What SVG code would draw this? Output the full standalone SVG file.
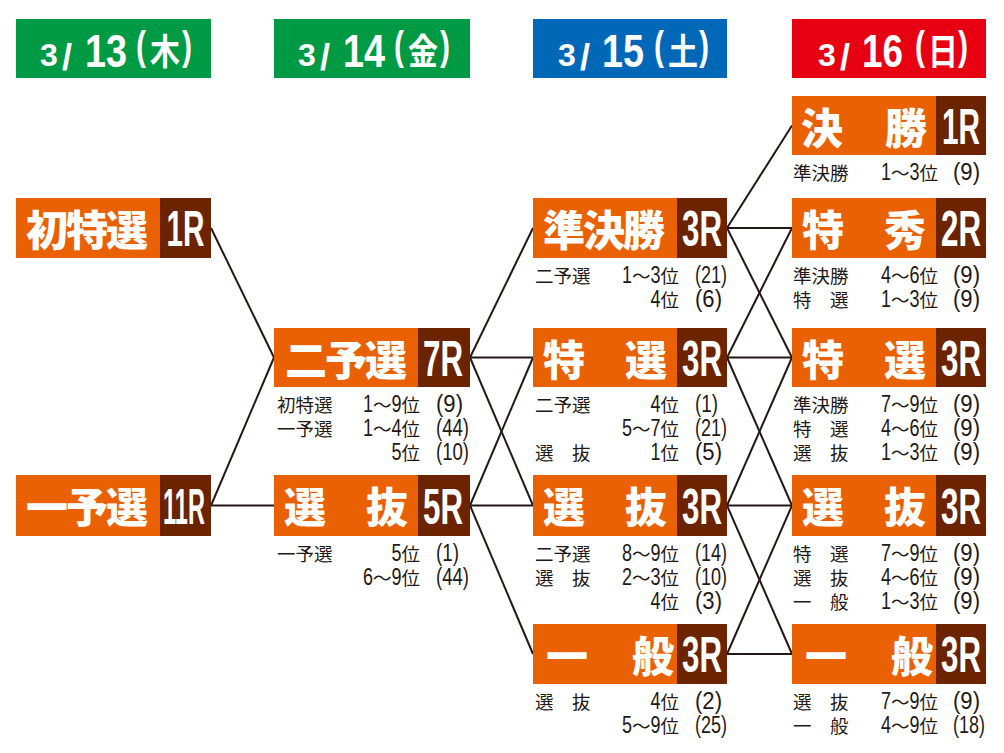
<svg xmlns="http://www.w3.org/2000/svg" width="1004" height="753" viewBox="0 0 1004 753">
<style>
.hd{fill:#fff;font-family:"Liberation Sans",Arial,sans-serif;font-weight:700}
.hk{font-family:"Noto Sans CJK JP",sans-serif;font-weight:700}
.o{fill:#ea6103}
.d{fill:#6b2300}
.lb{fill:#fff;font-family:"Noto Sans CJK JP",sans-serif;font-weight:900;font-size:42px}
.l3{letter-spacing:-2px}
.r{fill:#fff;font-family:"Liberation Sans",Arial,sans-serif;font-weight:700;font-size:50px;text-anchor:middle}
.t{fill:#231815;font-family:"Noto Sans CJK JP",sans-serif;font-size:18.5px}
.v{text-anchor:end}
.n{font-family:"Liberation Sans",Arial,sans-serif;font-size:23px}
.c line{stroke:#231815;stroke-width:2}
</style>

<g id="headers">
  <g id="h1" transform="translate(16,19)">
    <rect width="195" height="59" fill="#009944"/>
    <text class="hd" y="47"><tspan x="24" font-size="32">3</tspan><tspan x="46" y="51" font-size="36">/</tspan><tspan x="69" y="48" font-size="46" textLength="42" lengthAdjust="spacingAndGlyphs">13</tspan><tspan x="120" y="41" font-size="40" textLength="10" lengthAdjust="spacingAndGlyphs">(</tspan><tspan class="hk" x="134" y="46" font-size="36" textLength="30" lengthAdjust="spacingAndGlyphs">木</tspan><tspan x="166" y="41" font-size="40" textLength="10" lengthAdjust="spacingAndGlyphs">)</tspan></text>
  </g>
  <g id="h2" transform="translate(274,19)">
    <rect width="196" height="59" fill="#009944"/>
    <text class="hd" y="47"><tspan x="24" font-size="32">3</tspan><tspan x="46" y="51" font-size="36">/</tspan><tspan x="69" y="48" font-size="46" textLength="42" lengthAdjust="spacingAndGlyphs">14</tspan><tspan x="120" y="41" font-size="40" textLength="10" lengthAdjust="spacingAndGlyphs">(</tspan><tspan class="hk" x="134" y="46" font-size="36" textLength="30" lengthAdjust="spacingAndGlyphs">金</tspan><tspan x="166" y="41" font-size="40" textLength="10" lengthAdjust="spacingAndGlyphs">)</tspan></text>
  </g>
  <g id="h3" transform="translate(533,19)">
    <rect width="194" height="59" fill="#0068b7"/>
    <text class="hd" y="47"><tspan x="25" font-size="32">3</tspan><tspan x="47" y="51" font-size="36">/</tspan><tspan x="69" y="48" font-size="46" textLength="42" lengthAdjust="spacingAndGlyphs">15</tspan><tspan x="121" y="41" font-size="40" textLength="10" lengthAdjust="spacingAndGlyphs">(</tspan><tspan class="hk" x="135" y="46" font-size="36" textLength="30" lengthAdjust="spacingAndGlyphs">土</tspan><tspan x="166" y="41" font-size="40" textLength="10" lengthAdjust="spacingAndGlyphs">)</tspan></text>
  </g>
  <g id="h4" transform="translate(792,19)">
    <rect width="194" height="59" fill="#e60012"/>
    <text class="hd" y="47"><tspan x="26" font-size="32">3</tspan><tspan x="48" y="51" font-size="36">/</tspan><tspan x="70" y="48" font-size="46" textLength="41" lengthAdjust="spacingAndGlyphs">16</tspan><tspan x="123" y="41" font-size="40" textLength="10" lengthAdjust="spacingAndGlyphs">(</tspan><tspan class="hk" x="136" y="46" font-size="36" textLength="30" lengthAdjust="spacingAndGlyphs">日</tspan><tspan x="166" y="41" font-size="40" textLength="10" lengthAdjust="spacingAndGlyphs">)</tspan></text>
  </g>
</g>

<g id="connectors" class="c">
  <line x1="211" y1="228" x2="274" y2="357.5"/>
  <line x1="211" y1="505.5" x2="274" y2="357.5"/>
  <line x1="211" y1="505.5" x2="274" y2="505.5"/>
  <line x1="470" y1="357.5" x2="533" y2="228"/>
  <line x1="470" y1="357.5" x2="533" y2="357.5"/>
  <line x1="470" y1="357.5" x2="533" y2="505.5"/>
  <line x1="470" y1="505.5" x2="533" y2="357.5"/>
  <line x1="470" y1="505.5" x2="533" y2="505.5"/>
  <line x1="470" y1="505.5" x2="533" y2="654"/>
  <line x1="727" y1="228" x2="792" y2="125.5"/>
  <line x1="727" y1="228" x2="792" y2="228"/>
  <line x1="727" y1="228" x2="792" y2="357.5"/>
  <line x1="727" y1="357.5" x2="792" y2="228"/>
  <line x1="727" y1="357.5" x2="792" y2="357.5"/>
  <line x1="727" y1="357.5" x2="792" y2="505.5"/>
  <line x1="727" y1="505.5" x2="792" y2="357.5"/>
  <line x1="727" y1="505.5" x2="792" y2="505.5"/>
  <line x1="727" y1="505.5" x2="792" y2="654"/>
  <line x1="727" y1="654" x2="792" y2="505.5"/>
  <line x1="727" y1="654" x2="792" y2="654"/>
</g>

<g id="n-hatsutokusen">
  <rect class="o" x="16" y="198" width="195" height="60"/>
  <rect class="d" x="160" y="198" width="51" height="60"/>
  <text class="lb l3" x="26" y="246">初特選</text>
  <text class="r" x="185.5" y="246" textLength="38" lengthAdjust="spacingAndGlyphs">1R</text>
</g>

<g id="n-ichiyosen">
  <rect class="o" x="16" y="475" width="195" height="61"/>
  <rect class="d" x="160" y="475" width="51" height="61"/>
  <text class="lb l3" x="26" y="523">一予選</text>
  <text class="r" x="184" y="523.5" textLength="42" lengthAdjust="spacingAndGlyphs">11R</text>
</g>

<g id="n-niyosen">
  <rect class="o" x="274" y="328" width="196" height="59"/>
  <rect class="d" x="418" y="328" width="52" height="59"/>
  <text class="lb l3" x="285" y="376">二予選</text>
  <text class="r" x="443" y="375.5" textLength="40" lengthAdjust="spacingAndGlyphs">7R</text>
  <text class="t" x="277" y="412">初特選</text>
  <text class="t v" x="420" y="412"><tspan class="n" textLength="10" lengthAdjust="spacingAndGlyphs">1</tspan>～<tspan class="n" textLength="10" lengthAdjust="spacingAndGlyphs">9</tspan>位</text>
  <text class="t n" x="436" y="412" textLength="27" lengthAdjust="spacingAndGlyphs">(9)</text>
  <text class="t" x="277" y="436">一予選</text>
  <text class="t v" x="420" y="436"><tspan class="n" textLength="10" lengthAdjust="spacingAndGlyphs">1</tspan>～<tspan class="n" textLength="10" lengthAdjust="spacingAndGlyphs">4</tspan>位</text>
  <text class="t n" x="436" y="436" textLength="33" lengthAdjust="spacingAndGlyphs">(44)</text>
  <text class="t v" x="420" y="460"><tspan class="n" textLength="10" lengthAdjust="spacingAndGlyphs">5</tspan>位</text>
  <text class="t n" x="436" y="460" textLength="33" lengthAdjust="spacingAndGlyphs">(10)</text>
</g>

<g id="n-senbatsu5">
  <rect class="o" x="274" y="475" width="196" height="61"/>
  <rect class="d" x="418" y="475" width="52" height="61"/>
  <text class="lb" x="284" y="523">選</text>
  <text class="lb" x="408" y="523" text-anchor="end">抜</text>
  <text class="r" x="443" y="523.5" textLength="40" lengthAdjust="spacingAndGlyphs">5R</text>
  <text class="t" x="277" y="561">一予選</text>
  <text class="t v" x="420" y="561"><tspan class="n" textLength="10" lengthAdjust="spacingAndGlyphs">5</tspan>位</text>
  <text class="t n" x="436" y="561" textLength="23" lengthAdjust="spacingAndGlyphs">(1)</text>
  <text class="t v" x="420" y="585"><tspan class="n" textLength="10" lengthAdjust="spacingAndGlyphs">6</tspan>～<tspan class="n" textLength="10" lengthAdjust="spacingAndGlyphs">9</tspan>位</text>
  <text class="t n" x="436" y="585" textLength="33" lengthAdjust="spacingAndGlyphs">(44)</text>
</g>

<g id="n-junkessho">
  <rect class="o" x="533" y="198" width="194" height="60"/>
  <rect class="d" x="677" y="198" width="50" height="60"/>
  <text class="lb l3" x="543" y="246">準決勝</text>
  <text class="r" x="702" y="246" textLength="40" lengthAdjust="spacingAndGlyphs">3R</text>
  <text class="t" x="535" y="283">二予選</text>
  <text class="t v" x="679" y="283"><tspan class="n" textLength="10" lengthAdjust="spacingAndGlyphs">1</tspan>～<tspan class="n" textLength="10" lengthAdjust="spacingAndGlyphs">3</tspan>位</text>
  <text class="t n" x="695" y="283" textLength="32" lengthAdjust="spacingAndGlyphs">(21)</text>
  <text class="t v" x="679" y="307"><tspan class="n" textLength="10" lengthAdjust="spacingAndGlyphs">4</tspan>位</text>
  <text class="t n" x="695" y="307" textLength="27" lengthAdjust="spacingAndGlyphs">(6)</text>
</g>

<g id="n-tokusen3">
  <rect class="o" x="533" y="328" width="194" height="59"/>
  <rect class="d" x="677" y="328" width="50" height="59"/>
  <text class="lb" x="543" y="376">特</text>
  <text class="lb" x="667" y="376" text-anchor="end">選</text>
  <text class="r" x="702" y="375.5" textLength="40" lengthAdjust="spacingAndGlyphs">3R</text>
  <text class="t" x="535" y="412">二予選</text>
  <text class="t v" x="679" y="412"><tspan class="n" textLength="10" lengthAdjust="spacingAndGlyphs">4</tspan>位</text>
  <text class="t n" x="695" y="412" textLength="23" lengthAdjust="spacingAndGlyphs">(1)</text>
  <text class="t v" x="679" y="436"><tspan class="n" textLength="10" lengthAdjust="spacingAndGlyphs">5</tspan>～<tspan class="n" textLength="10" lengthAdjust="spacingAndGlyphs">7</tspan>位</text>
  <text class="t n" x="695" y="436" textLength="32" lengthAdjust="spacingAndGlyphs">(21)</text>
  <text class="t" x="535" y="460">選　抜</text>
  <text class="t v" x="679" y="460"><tspan class="n" textLength="10" lengthAdjust="spacingAndGlyphs">1</tspan>位</text>
  <text class="t n" x="695" y="460" textLength="27" lengthAdjust="spacingAndGlyphs">(5)</text>
</g>

<g id="n-senbatsu3">
  <rect class="o" x="533" y="475" width="194" height="61"/>
  <rect class="d" x="677" y="475" width="50" height="61"/>
  <text class="lb" x="543" y="523">選</text>
  <text class="lb" x="667" y="523" text-anchor="end">抜</text>
  <text class="r" x="702" y="523.5" textLength="40" lengthAdjust="spacingAndGlyphs">3R</text>
  <text class="t" x="535" y="561">二予選</text>
  <text class="t v" x="679" y="561"><tspan class="n" textLength="10" lengthAdjust="spacingAndGlyphs">8</tspan>～<tspan class="n" textLength="10" lengthAdjust="spacingAndGlyphs">9</tspan>位</text>
  <text class="t n" x="695" y="561" textLength="32" lengthAdjust="spacingAndGlyphs">(14)</text>
  <text class="t" x="535" y="585">選　抜</text>
  <text class="t v" x="679" y="585"><tspan class="n" textLength="10" lengthAdjust="spacingAndGlyphs">2</tspan>～<tspan class="n" textLength="10" lengthAdjust="spacingAndGlyphs">3</tspan>位</text>
  <text class="t n" x="695" y="585" textLength="32" lengthAdjust="spacingAndGlyphs">(10)</text>
  <text class="t v" x="679" y="609"><tspan class="n" textLength="10" lengthAdjust="spacingAndGlyphs">4</tspan>位</text>
  <text class="t n" x="695" y="609" textLength="27" lengthAdjust="spacingAndGlyphs">(3)</text>
</g>

<g id="n-ippan3">
  <rect class="o" x="533" y="624" width="194" height="60"/>
  <rect class="d" x="677" y="624" width="50" height="60"/>
  <text class="lb" x="546" y="672">一</text>
  <text class="lb" x="674" y="672" text-anchor="end">般</text>
  <text class="r" x="702" y="672" textLength="40" lengthAdjust="spacingAndGlyphs">3R</text>
  <text class="t" x="535" y="709">選　抜</text>
  <text class="t v" x="679" y="709"><tspan class="n" textLength="10" lengthAdjust="spacingAndGlyphs">4</tspan>位</text>
  <text class="t n" x="695" y="709" textLength="27" lengthAdjust="spacingAndGlyphs">(2)</text>
  <text class="t v" x="679" y="733"><tspan class="n" textLength="10" lengthAdjust="spacingAndGlyphs">5</tspan>～<tspan class="n" textLength="10" lengthAdjust="spacingAndGlyphs">9</tspan>位</text>
  <text class="t n" x="695" y="733" textLength="32" lengthAdjust="spacingAndGlyphs">(25)</text>
</g>

<g id="n-kessho">
  <rect class="o" x="792" y="96" width="194" height="59"/>
  <rect class="d" x="936" y="96" width="50" height="59"/>
  <text class="lb" x="801" y="144">決</text>
  <text class="lb" x="927" y="144" text-anchor="end">勝</text>
  <text class="r" x="961" y="144" textLength="38" lengthAdjust="spacingAndGlyphs">1R</text>
  <text class="t" x="793" y="180">準決勝</text>
  <text class="t v" x="938" y="180"><tspan class="n" textLength="10" lengthAdjust="spacingAndGlyphs">1</tspan>～<tspan class="n" textLength="10" lengthAdjust="spacingAndGlyphs">3</tspan>位</text>
  <text class="t n" x="953" y="180" textLength="27" lengthAdjust="spacingAndGlyphs">(9)</text>
</g>

<g id="n-tokushu">
  <rect class="o" x="792" y="198" width="194" height="60"/>
  <rect class="d" x="936" y="198" width="50" height="60"/>
  <text class="lb" x="802" y="246">特</text>
  <text class="lb" x="926" y="246" text-anchor="end">秀</text>
  <text class="r" x="961" y="246" textLength="40" lengthAdjust="spacingAndGlyphs">2R</text>
  <text class="t" x="793" y="283">準決勝</text>
  <text class="t v" x="938" y="283"><tspan class="n" textLength="10" lengthAdjust="spacingAndGlyphs">4</tspan>～<tspan class="n" textLength="10" lengthAdjust="spacingAndGlyphs">6</tspan>位</text>
  <text class="t n" x="953" y="283" textLength="27" lengthAdjust="spacingAndGlyphs">(9)</text>
  <text class="t" x="793" y="307">特　選</text>
  <text class="t v" x="938" y="307"><tspan class="n" textLength="10" lengthAdjust="spacingAndGlyphs">1</tspan>～<tspan class="n" textLength="10" lengthAdjust="spacingAndGlyphs">3</tspan>位</text>
  <text class="t n" x="953" y="307" textLength="27" lengthAdjust="spacingAndGlyphs">(9)</text>
</g>

<g id="n-tokusen">
  <rect class="o" x="792" y="328" width="194" height="59"/>
  <rect class="d" x="936" y="328" width="50" height="59"/>
  <text class="lb" x="802" y="376">特</text>
  <text class="lb" x="926" y="376" text-anchor="end">選</text>
  <text class="r" x="961" y="375.5" textLength="40" lengthAdjust="spacingAndGlyphs">3R</text>
  <text class="t" x="793" y="412">準決勝</text>
  <text class="t v" x="938" y="412"><tspan class="n" textLength="10" lengthAdjust="spacingAndGlyphs">7</tspan>～<tspan class="n" textLength="10" lengthAdjust="spacingAndGlyphs">9</tspan>位</text>
  <text class="t n" x="953" y="412" textLength="27" lengthAdjust="spacingAndGlyphs">(9)</text>
  <text class="t" x="793" y="436">特　選</text>
  <text class="t v" x="938" y="436"><tspan class="n" textLength="10" lengthAdjust="spacingAndGlyphs">4</tspan>～<tspan class="n" textLength="10" lengthAdjust="spacingAndGlyphs">6</tspan>位</text>
  <text class="t n" x="953" y="436" textLength="27" lengthAdjust="spacingAndGlyphs">(9)</text>
  <text class="t" x="793" y="460">選　抜</text>
  <text class="t v" x="938" y="460"><tspan class="n" textLength="10" lengthAdjust="spacingAndGlyphs">1</tspan>～<tspan class="n" textLength="10" lengthAdjust="spacingAndGlyphs">3</tspan>位</text>
  <text class="t n" x="953" y="460" textLength="27" lengthAdjust="spacingAndGlyphs">(9)</text>
</g>

<g id="n-senbatsu">
  <rect class="o" x="792" y="475" width="194" height="61"/>
  <rect class="d" x="936" y="475" width="50" height="61"/>
  <text class="lb" x="802" y="523">選</text>
  <text class="lb" x="926" y="523" text-anchor="end">抜</text>
  <text class="r" x="961" y="523.5" textLength="40" lengthAdjust="spacingAndGlyphs">3R</text>
  <text class="t" x="793" y="561">特　選</text>
  <text class="t v" x="938" y="561"><tspan class="n" textLength="10" lengthAdjust="spacingAndGlyphs">7</tspan>～<tspan class="n" textLength="10" lengthAdjust="spacingAndGlyphs">9</tspan>位</text>
  <text class="t n" x="953" y="561" textLength="27" lengthAdjust="spacingAndGlyphs">(9)</text>
  <text class="t" x="793" y="585">選　抜</text>
  <text class="t v" x="938" y="585"><tspan class="n" textLength="10" lengthAdjust="spacingAndGlyphs">4</tspan>～<tspan class="n" textLength="10" lengthAdjust="spacingAndGlyphs">6</tspan>位</text>
  <text class="t n" x="953" y="585" textLength="27" lengthAdjust="spacingAndGlyphs">(9)</text>
  <text class="t" x="793" y="609">一　般</text>
  <text class="t v" x="938" y="609"><tspan class="n" textLength="10" lengthAdjust="spacingAndGlyphs">1</tspan>～<tspan class="n" textLength="10" lengthAdjust="spacingAndGlyphs">3</tspan>位</text>
  <text class="t n" x="953" y="609" textLength="27" lengthAdjust="spacingAndGlyphs">(9)</text>
</g>

<g id="n-ippan">
  <rect class="o" x="792" y="624" width="194" height="60"/>
  <rect class="d" x="936" y="624" width="50" height="60"/>
  <text class="lb" x="805" y="672">一</text>
  <text class="lb" x="933" y="672" text-anchor="end">般</text>
  <text class="r" x="961" y="672" textLength="40" lengthAdjust="spacingAndGlyphs">3R</text>
  <text class="t" x="793" y="709">選　抜</text>
  <text class="t v" x="938" y="709"><tspan class="n" textLength="10" lengthAdjust="spacingAndGlyphs">7</tspan>～<tspan class="n" textLength="10" lengthAdjust="spacingAndGlyphs">9</tspan>位</text>
  <text class="t n" x="953" y="709" textLength="27" lengthAdjust="spacingAndGlyphs">(9)</text>
  <text class="t" x="793" y="733">一　般</text>
  <text class="t v" x="938" y="733"><tspan class="n" textLength="10" lengthAdjust="spacingAndGlyphs">4</tspan>～<tspan class="n" textLength="10" lengthAdjust="spacingAndGlyphs">9</tspan>位</text>
  <text class="t n" x="953" y="733" textLength="32" lengthAdjust="spacingAndGlyphs">(18)</text>
</g>
</svg>
